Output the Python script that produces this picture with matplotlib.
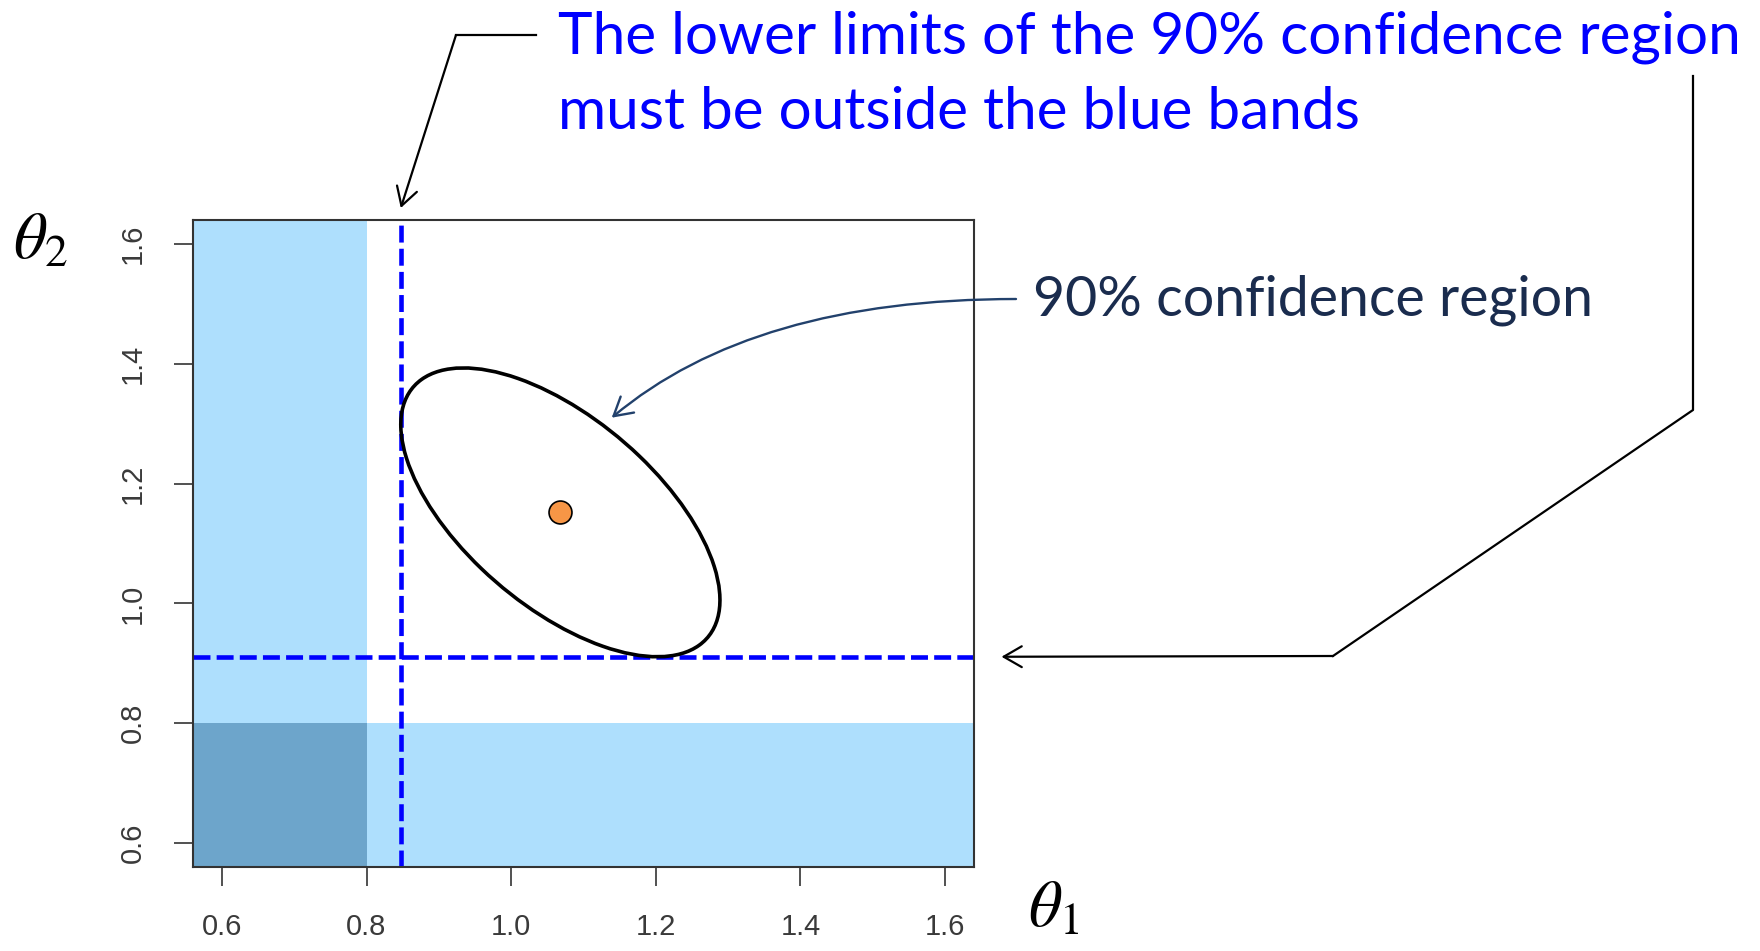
import numpy as np
import matplotlib.pyplot as plt
from matplotlib.lines import Line2D
from matplotlib.patches import Ellipse

plt.rcParams['mathtext.fontset'] = 'stix'
plt.rcParams['font.family'] = ['Liberation Sans', 'DejaVu Sans']

# point estimate of (theta1, theta2) and the scaled covariance of its 90% region
estimate = [1.068, 1.152]
region_cov = [[0.0487, -0.0323],
              [-0.0323, 0.0581]]
band_limit = 0.8          # parameter values below this are in the blue bands
axis_range = [0.6, 1.6]
ticks = [0.6, 0.8, 1.0, 1.2, 1.4, 1.6]

LIGHT_BAND = '#AEDFFD'
DARK_BAND = '#6DA5CB'
NAVY_TEXT = '#1A2C4E'
NAVY_LINE = '#22416C'

W, H = 1760, 951


def fig_xy(px, py):
    """pixel position (origin top-left) -> figure fraction"""
    return px / W, 1 - py / H


def fit_width(txt, width_px):
    r = fig.canvas.get_renderer()
    w = txt.get_window_extent(r).width
    txt.set_fontsize(txt.get_fontsize() * width_px / w)


fig = plt.figure(figsize=(W / 100, H / 100), dpi=100)
ax = fig.add_axes([193 / W, (H - 867) / H, 781 / W, 647 / H])

# R-style 4% padding around the data range
pad = 0.04 * (axis_range[1] - axis_range[0])
lo, hi = axis_range[0] - pad, axis_range[1] + pad
ax.set_xlim(lo, hi)
ax.set_ylim(lo, hi)

# blue bands and their overlap
ax.add_patch(plt.Rectangle((lo, lo), band_limit - lo, hi - lo, color=LIGHT_BAND, lw=0, zorder=0))
ax.add_patch(plt.Rectangle((lo, lo), hi - lo, band_limit - lo, color=LIGHT_BAND, lw=0, zorder=0))
ax.add_patch(plt.Rectangle((lo, lo), band_limit - lo, band_limit - lo, color=DARK_BAND, lw=0, zorder=0))

# confidence ellipse from the covariance
cov = np.array(region_cov)
vals, vecs = np.linalg.eigh(cov)
angle = np.degrees(np.arctan2(vecs[1, 1], vecs[0, 1]))
ax.add_patch(Ellipse(estimate, width=2 * np.sqrt(vals[1]), height=2 * np.sqrt(vals[0]),
                     angle=angle, fill=False, ec='black', lw=2.6, zorder=3))

# lower limits of the region
lower1 = estimate[0] - np.sqrt(cov[0, 0])
lower2 = estimate[1] - np.sqrt(cov[1, 1])
ax.axvline(lower1, color='#0000FF', lw=3.3, dashes=(3.7, 1.35), zorder=2)
ax.axhline(lower2, color='#0000FF', lw=3.3, dashes=(3.7, 1.35), zorder=2)

ax.plot(estimate[0], estimate[1], 'o', ms=16.5, mfc='#F79646', mec='black', mew=1.2, zorder=4)

ax.set_xticks(ticks)
ax.set_yticks(ticks)
ax.set_xticklabels([f'{t:.1f}' for t in ticks])
ax.set_yticklabels([f'{t:.1f}' for t in ticks], rotation=90, va='center')
ax.tick_params(length=14, width=1.2, color='#333333', labelsize=21,
               labelcolor='#3a3a3a', pad=19)
for s in ax.spines.values():
    s.set_linewidth(1.5)
    s.set_color('#333333')

# axis symbols
fig.text(*fig_xy(13, 258), r'$\theta_2$', fontsize=47, va='baseline', ha='left')
fig.text(*fig_xy(1028, 926), r'$\theta_1$', fontsize=47, va='baseline', ha='left')

# headline note, pointing at the two lower limits
t1 = fig.text(*fig_xy(558, 53), 'The lower limits of the 90% confidence region',
              family='Lato', color='#0000FF', fontsize=40, va='baseline', ha='left')
fit_width(t1, 1182)
fig.text(*fig_xy(558, 129), 'must be outside the blue bands',
         family='Lato', color='#0000FF', fontsize=t1.get_fontsize(), va='baseline', ha='left')

arrow = dict(arrowstyle='->,head_length=1.3,head_width=0.75', color='black', lw=1.6,
             shrinkA=0, shrinkB=0, mutation_scale=10)

fig.add_artist(Line2D([536 / W, 456 / W], [1 - 35 / H, 1 - 35 / H],
                      transform=fig.transFigure, color='black', lw=1.6))
ax.annotate('', xy=(lower1, 1.66), xycoords='data',
            xytext=fig_xy(456, 35), textcoords='figure fraction',
            arrowprops=arrow, annotation_clip=False)

path_x = [1693, 1693, 1333]
path_y = [76, 410, 656]
fig.add_artist(Line2D([x / W for x in path_x], [1 - y / H for y in path_y],
                      transform=fig.transFigure, color='black', lw=1.6))
ax.annotate('', xy=(1.678, lower2), xycoords='data',
            xytext=fig_xy(1333, 656), textcoords='figure fraction',
            arrowprops=arrow, annotation_clip=False)

# label for the ellipse
t2 = fig.text(*fig_xy(1033, 316), '90% confidence region', family='Lato',
              color=NAVY_TEXT, fontsize=34, va='baseline', ha='left')
fit_width(t2, 562)
ax.annotate('', xy=(1.139, 1.31), xycoords='data',
            xytext=fig_xy(1016, 299), textcoords='figure fraction',
            arrowprops=dict(arrowstyle='->,head_length=1.3,head_width=0.75', color=NAVY_LINE,
                            lw=1.7, shrinkA=0, shrinkB=0, mutation_scale=10,
                            connectionstyle='angle3,angleA=0,angleB=40'),
            annotation_clip=False)

fig.savefig('out.png', dpi=100)
